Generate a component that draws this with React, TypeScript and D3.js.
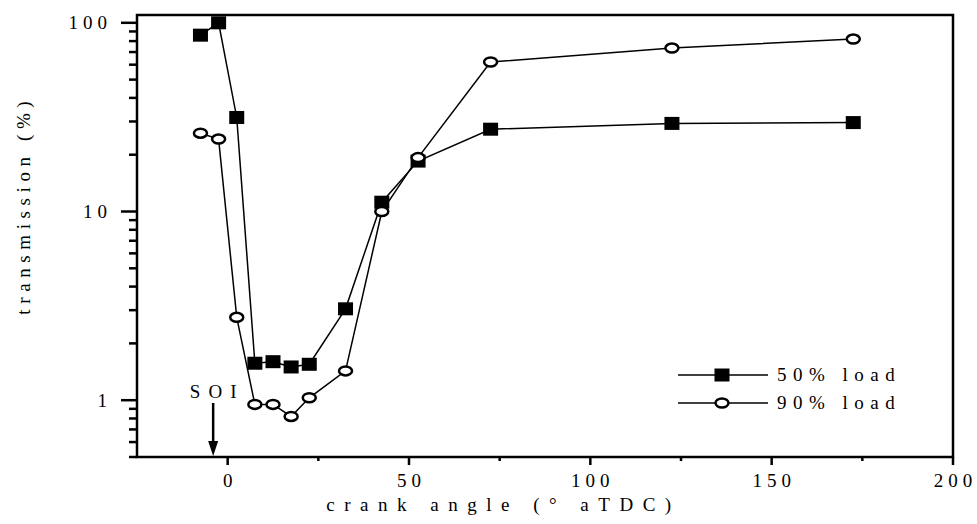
import React from "react";
import * as d3 from "d3";

// crank angle (deg aTDC)
const angles = [-7.5, -2.5, 2.5, 7.5, 12.5, 17.5, 22.5, 32.5, 42.5, 52.5, 72.5, 122.5, 172.5];
// transmission (%)
const load50 = [86, 100, 31.5, 1.57, 1.6, 1.5, 1.55, 3.05, 11.2, 18.5, 27.3, 29.3, 29.6];
const load90 = [26, 24.2, 2.75, 0.95, 0.95, 0.82, 1.03, 1.43, 10, 19.3, 62, 73.5, 82];

const xTicks = [0, 50, 100, 150, 200];
const xMinorTicks = [25, 75, 125, 175];
const yTicks = [1, 10, 100];
const soiAngle = -4;

const W = 977;
const H = 524;
const margin = { left: 137, right: 24, top: 15, bottom: 67 };
const FONT = "'Liberation Serif', 'Times New Roman', serif";

export default function App() {
  const x = d3.scaleLinear().domain([-25, 200]).range([margin.left, W - margin.right]);
  const y = d3.scaleLog().domain([0.5, 110]).range([H - margin.bottom, margin.top]);

  const x0 = margin.left;
  const x1 = W - margin.right;
  const y0 = H - margin.bottom;
  const y1 = margin.top;

  const line = d3
    .line<number>()
    .x((d, i) => x(angles[i]))
    .y((d) => y(d));

  // minor log ticks 2..9 of each decade inside the domain
  const yMinor: number[] = [];
  [0.1, 1, 10].forEach((dec) => {
    for (let k = 2; k <= 9; k++) {
      const v = dec * k;
      if (v >= 0.5 && v <= 110 && !yTicks.includes(v)) yMinor.push(v);
    }
  });

  const sq = (cx: number, cy: number, key: string) => (
    <rect key={key} x={cx - 7.5} y={cy - 6.5} width={15} height={13} fill="#000" />
  );
  const circ = (cx: number, cy: number, key: string) => (
    <ellipse key={key} cx={cx} cy={cy} rx={6.5} ry={4.5} fill="#fff" stroke="#000" strokeWidth={2.5} />
  );

  const soiX = x(soiAngle);
  const tickLS = 5;

  return (
    <svg width={W} height={H} style={{ position: "absolute", left: 0, top: 0, background: "#fff" }}>
      <rect width={W} height={H} fill="#fff" />

      {/* series lines */}
      <path d={line(load50) || ""} fill="none" stroke="#000" strokeWidth={1.5} />
      <path d={line(load90) || ""} fill="none" stroke="#000" strokeWidth={1.5} />
      {load50.map((v, i) => sq(x(angles[i]), y(v), "s" + i))}
      {load90.map((v, i) => circ(x(angles[i]), y(v), "c" + i))}

      {/* frame */}
      <rect x={x0} y={y1} width={x1 - x0} height={y0 - y1} fill="none" stroke="#000" strokeWidth={2.5} />

      {/* y axis ticks */}
      {yTicks.map((t) => (
        <g key={"yt" + t}>
          <line x1={x0 - 16} x2={x0} y1={y(t)} y2={y(t)} stroke="#000" strokeWidth={2.5} />
          <text
            x={107 + tickLS}
            y={y(t)}
            dy="0.35em"
            textAnchor="end"
            fontFamily={FONT}
            fontSize={19}
            letterSpacing={tickLS}
          >
            {t}
          </text>
        </g>
      ))}
      {yMinor.map((t) => (
        <line key={"ym" + t} x1={x0 - 8} x2={x0} y1={y(t)} y2={y(t)} stroke="#000" strokeWidth={2.5} />
      ))}

      {/* x axis ticks */}
      {xTicks.map((t) => (
        <g key={"xt" + t}>
          <line x1={x(t)} x2={x(t)} y1={y0} y2={y0 + 8} stroke="#000" strokeWidth={2.5} />
          <text
            x={x(t) + tickLS / 2}
            y={y0 + 30}
            textAnchor="middle"
            fontFamily={FONT}
            fontSize={19}
            letterSpacing={tickLS}
          >
            {t}
          </text>
        </g>
      ))}
      {xMinorTicks.map((t) => (
        <line key={"xm" + t} x1={x(t)} x2={x(t)} y1={y0} y2={y0 + 4} stroke="#000" strokeWidth={2.5} />
      ))}

      {/* axis titles */}
      <text
        x={499 + 4.5}
        y={511}
        textAnchor="middle"
        fontFamily={FONT}
        fontSize={19}
        letterSpacing={9.5}
      >
        crank angle (° aTDC)
      </text>
      <text
        transform={`translate(30, ${208 - 2.8}) rotate(-90)`}
        textAnchor="middle"
        fontFamily={FONT}
        fontSize={19}
        letterSpacing={5.6}
      >
        transmission (%)
      </text>

      {/* SOI marker */}
      <text x={soiX + 4} y={398} textAnchor="middle" fontFamily={FONT} fontSize={19} letterSpacing={8}>
        SOI
      </text>
      <line x1={soiX} x2={soiX} y1={403} y2={444} stroke="#000" strokeWidth={2.5} />
      <path d={`M${soiX - 5},${441} L${soiX + 5},${441} L${soiX},${y0 - 1} Z`} fill="#000" />

      {/* legend */}
      <g fontFamily={FONT} fontSize={19} letterSpacing={6.5}>
        <line x1={678} x2={768} y1={375} y2={375} stroke="#000" strokeWidth={1.5} />
        {sq(722, 375, "ls")}
        <text x={777} y={381}>50% load</text>
        <line x1={678} x2={768} y1={403} y2={403} stroke="#000" strokeWidth={1.5} />
        {circ(722, 403, "lc")}
        <text x={777} y={409}>90% load</text>
      </g>
    </svg>
  );
}
